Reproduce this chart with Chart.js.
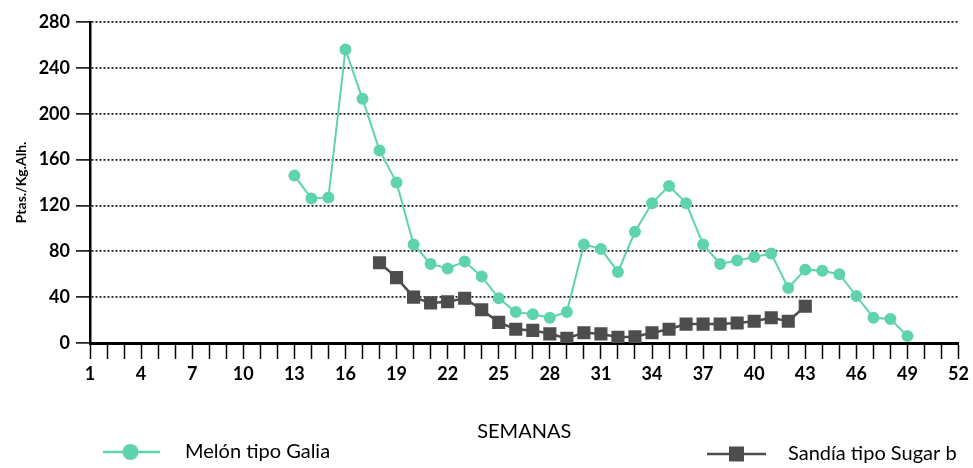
<!DOCTYPE html>
<html>
<head>
<meta charset="utf-8">
<script src="https://cdn.jsdelivr.net/npm/chart.js@4"></script>
<style>
  body { margin: 0; background: #fff; }
  #wrap { width: 973px; height: 468px; }
</style>
</head>
<body>
<div id="wrap"><canvas id="lineChartSemanas"></canvas></div>
<script>
var melonWeeks = [13, 14, 15, 16, 17, 18, 19, 20, 21, 22, 23, 24, 25, 26, 27, 28, 29, 30, 31, 32, 33, 34, 35, 36, 37, 38, 39, 40, 41, 42, 43, 44, 45, 46, 47, 48, 49];
var melonValues = [146, 126, 127, 256, 213, 168, 140, 86, 69, 65, 71, 58, 39, 27, 25, 22, 27, 86, 82, 62, 97, 122, 137, 122, 86, 69, 72, 75, 78, 48, 64, 63, 60, 41, 22, 21, 6];

var sandiaWeeks = [18, 19, 20, 21, 22, 23, 24, 25, 26, 27, 28, 29, 30, 31, 32, 33, 34, 35, 36, 37, 38, 39, 40, 41, 42, 43];
var sandiaValues = [70, 57, 40, 35, 36, 39, 29, 18, 12, 11, 8, 4, 9, 8, 5, 5.5, 9, 12, 16.5, 16.5, 16.5, 17.5, 19, 22, 19, 32];

var xTickLabels = [1, 4, 7, 10, 13, 16, 19, 22, 25, 28, 31, 34, 37, 40, 43, 46, 49, 52];
var yTickLabels = [0, 40, 80, 120, 160, 200, 240, 280];

var seriesNames = ["Melón tipo Galia", "Sandía tipo Sugar b"];

var melonColor = "#5fd3ab";
var sandiaColor = "#4d4d4d";
var fontFamily = "Lato, 'Open Sans', sans-serif";

let toPoints = (weeks, values) => weeks.map((w, i) => ({ x: w, y: values[i] }));

// legend sits left and right under the axis title, so it is drawn by hand
var bottomLegend = {
    id: 'bottomLegend',
    afterDraw(chart) {
        var ctx = chart.ctx;
        var items = [
            { ds: chart.data.datasets[0], x1: 103, x2: 160, y: 452, tx: 185 },
            { ds: chart.data.datasets[1], x1: 707, x2: 766, y: 454, tx: 788 }
        ];
        ctx.save();
        items.forEach(function(it) {
            ctx.strokeStyle = it.ds.borderColor;
            ctx.lineWidth = 2.5;
            ctx.beginPath();
            ctx.moveTo(it.x1, it.y);
            ctx.lineTo(it.x2, it.y);
            ctx.stroke();
            var mx = (it.x1 + it.x2) / 2;
            ctx.fillStyle = it.ds.pointBackgroundColor;
            ctx.beginPath();
            if (it.ds.pointStyle === 'rect') {
                ctx.rect(mx - 7.5, it.y - 7.5, 15, 15);
            } else {
                ctx.arc(mx - 1, it.y, 8, 0, Math.PI * 2);
            }
            ctx.fill();
            ctx.fillStyle = "#000";
            ctx.font = "20px " + fontFamily;
            ctx.textBaseline = "middle";
            ctx.textAlign = "left";
            ctx.fillText(it.ds.label, it.tx, it.y);
        });
        ctx.restore();
    }
};

var ctxL = document.getElementById("lineChartSemanas").getContext('2d');
var myLineChart = new Chart(ctxL, {
    type: 'line',
    data: {
        datasets: [{
            label: seriesNames[0],
            data: toPoints(melonWeeks, melonValues),
            borderColor: melonColor,
            backgroundColor: melonColor,
            pointBackgroundColor: melonColor,
            pointBorderColor: melonColor,
            borderWidth: 2,
            pointRadius: 5,
            pointStyle: 'circle',
            tension: 0
        }, {
            label: seriesNames[1],
            data: toPoints(sandiaWeeks, sandiaValues),
            borderColor: sandiaColor,
            backgroundColor: sandiaColor,
            pointBackgroundColor: sandiaColor,
            pointBorderColor: sandiaColor,
            borderWidth: 2.5,
            pointRadius: 7.5,
            pointStyle: 'rect',
            tension: 0
        }]
    },
    options: {
        responsive: true,
        maintainAspectRatio: false,
        animation: false,
        layout: { padding: { top: 22, right: 11, bottom: 24, left: 0 } },
        plugins: {
            legend: { display: false },
            tooltip: { enabled: false }
        },
        scales: {
            x: {
                type: 'linear',
                min: 1,
                max: 52,
                afterFit: function(scale) { scale.height = 101; },
                border: { color: "#000", width: 3 },
                grid: {
                    drawOnChartArea: false,
                    drawTicks: true,
                    tickLength: 16,
                    tickColor: "#000",
                    tickWidth: 1.5
                },
                ticks: {
                    stepSize: 1,
                    autoSkip: false,
                    maxRotation: 0,
                    padding: 4,
                    color: "#000",
                    font: { family: fontFamily, size: 18, weight: 'bold' },
                    callback: function(v) { return xTickLabels.includes(v) ? String(v) : ''; }
                },
                title: {
                    display: true,
                    text: "SEMANAS",
                    color: "#000",
                    font: { family: fontFamily, size: 20 },
                    padding: { top: 0, bottom: 0 }
                }
            },
            y: {
                min: 0,
                max: 280,
                afterFit: function(scale) { scale.width = 90; },
                afterBuildTicks: function(scale) { scale.ticks = yTickLabels.map(v => ({ value: v })); },
                border: { color: "#000", width: 2.5, dash: [2, 2] },
                grid: {
                    color: "#222",
                    lineWidth: 1.8,
                    tickLength: 14,
                    tickColor: "#000",
                    tickWidth: 1.5
                },
                ticks: {
                    padding: 6,
                    color: "#000",
                    font: { family: fontFamily, size: 18, weight: 'bold' }
                },
                title: {
                    display: true,
                    text: "Ptas./Kg.Alh.",
                    color: "#000",
                    font: { family: fontFamily, size: 14, weight: 'bold' },
                    padding: { top: 13, bottom: 0 }
                }
            }
        }
    },
    plugins: [bottomLegend]
});
</script>
</body>
</html>
